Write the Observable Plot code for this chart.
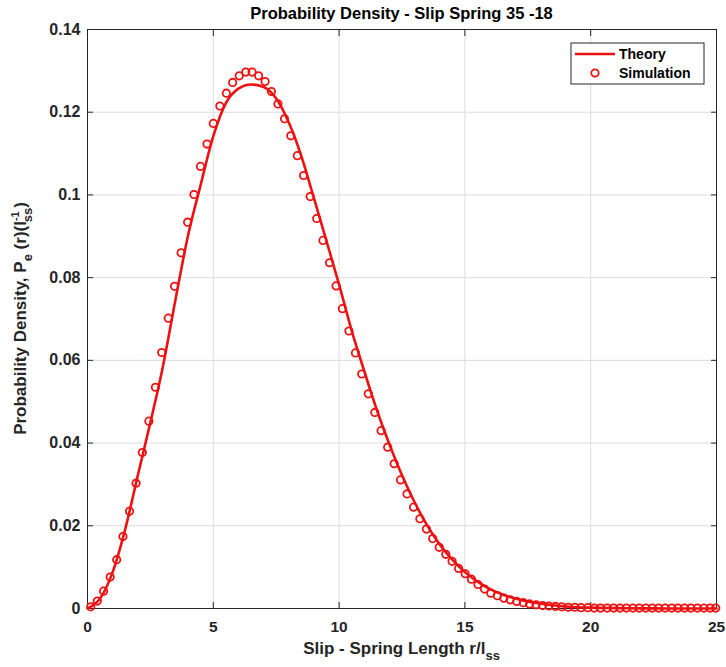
<!DOCTYPE html>
<html><head><meta charset="utf-8">
<script src="https://cdn.jsdelivr.net/npm/d3@7"></script>
<script src="https://cdn.jsdelivr.net/npm/@observablehq/plot@0.6"></script>
<style>
body{margin:0;background:#fff;}
svg{font-family:"Liberation Sans",Arial,sans-serif;}
</style>
</head><body><div id="chart"></div>
<script>
const titleText = "Probability Density - Slip Spring 35 -18";
const seriesNames = ["Theory", "Simulation"];
const xTicks = [0, 5, 10, 15, 20, 25];
const yTicks = [0, 0.02, 0.04, 0.06, 0.08, 0.1, 0.12, 0.14];
const yTickLabels = ["0", "0.02", "0.04", "0.06", "0.08", "0.1", "0.12", "0.14"];

const theoryX = [0, 0.5, 1, 1.5, 2, 2.5, 3, 3.5, 4, 4.5, 5, 5.5, 6, 6.5, 7, 7.5, 8, 8.5, 9, 9.5, 10,
  10.5, 11, 11.5, 12, 12.5, 13, 13.5, 14, 14.5, 15, 15.5, 16, 16.5, 17, 17.5, 18, 18.5, 19, 19.5, 20,
  21, 22, 23, 24, 25];
const theoryY = [0, 0.0024, 0.0088, 0.0192, 0.0322, 0.0450, 0.0586, 0.0748, 0.0903, 0.1025, 0.1142, 0.1222,
  0.1257, 0.1267, 0.1261, 0.1233, 0.1175, 0.1094, 0.0992, 0.0888, 0.0783, 0.0672, 0.0574, 0.0480, 0.0397,
  0.0322, 0.0257, 0.0201, 0.0155, 0.0118, 0.0088, 0.0065, 0.0047, 0.0034, 0.0024, 0.0017, 0.0012, 0.0008,
  0.0005, 0.0003, 0.0002, 0.0001, 0.00004, 0.00001, 0, 0];

const simX = [0.13, 0.39, 0.64, 0.90, 1.16, 1.41, 1.67, 1.93, 2.18, 2.44, 2.70, 2.95, 3.21, 3.46, 3.72, 3.98,
  4.23, 4.49, 4.75, 5.00, 5.26, 5.52, 5.77, 6.03, 6.29, 6.54, 6.80, 7.06, 7.31, 7.57, 7.83, 8.08, 8.34, 8.59,
  8.85, 9.11, 9.36, 9.62, 9.88, 10.13, 10.39, 10.65, 10.90, 11.16, 11.42, 11.67, 11.93, 12.19, 12.44, 12.70,
  12.96, 13.21, 13.47, 13.72, 13.98, 14.24, 14.49, 14.75, 15.01, 15.26, 15.52, 15.78, 16.03, 16.29, 16.55,
  16.80, 17.06, 17.32, 17.57, 17.83, 18.09, 18.34, 18.60, 18.85, 19.11, 19.37, 19.62, 19.88, 20.14, 20.39,
  20.65, 20.91, 21.16, 21.42, 21.68, 21.93, 22.19, 22.45, 22.70, 22.96, 23.22, 23.47, 23.73, 23.98, 24.24,
  24.50, 24.75, 24.97];
const simY = [0.0004, 0.0018, 0.0042, 0.0076, 0.0118, 0.0174, 0.0235, 0.0303, 0.0377, 0.0453, 0.0535, 0.0619,
  0.0702, 0.0779, 0.0860, 0.0934, 0.1001, 0.1069, 0.1123, 0.1173, 0.1215, 0.1246, 0.1272, 0.1288, 0.1297,
  0.1297, 0.1288, 0.1274, 0.1250, 0.1220, 0.1184, 0.1143, 0.1095, 0.1047, 0.0996, 0.0943, 0.0890, 0.0836,
  0.0780, 0.0725, 0.0671, 0.0618, 0.0567, 0.0519, 0.0474, 0.0430, 0.0390, 0.0350, 0.0311, 0.0277, 0.0245,
  0.0217, 0.0192, 0.0169, 0.0148, 0.0131, 0.0114, 0.0097, 0.0084, 0.0071, 0.0058, 0.0047, 0.0037, 0.0031,
  0.0025, 0.0021, 0.0017, 0.0014, 0.0011, 0.0009, 0.0007, 0.0006, 0.0005, 0.0004, 0.0003, 0.0003, 0.0002,
  0.0002, 0.0001, 0.0001, 0.0001, 0.0001, 0.0001, 0.0001, 0.0001, 0.0001, 0.0001, 0.0001, 0.0001, 0.0001,
  0.0001, 0.0001, 0.0001, 0.0001, 0.0001, 0.0001, 0.0001, 0.0001];

const theory = theoryX.map((x, i) => ({x, y: theoryY[i]}));
const sim = simX.map((x, i) => ({x, y: simY[i]}));

const RED = "#ee1111";
const AX = "#262626";
const W = 726, H = 667, mL = 87, mR = 10, mT = 29, mB = 59;

const chart = Plot.plot({
  width: W, height: H,
  marginLeft: mL, marginRight: mR, marginTop: mT, marginBottom: mB,
  style: {fontFamily: "Liberation Sans, Arial, sans-serif", background: "white", overflow: "visible"},
  x: {domain: [0, 25], label: null},
  y: {domain: [0, 0.14], label: null},
  marks: [
    Plot.gridX(xTicks, {stroke: "#dcdcdc", strokeOpacity: 1}),
    Plot.gridY(yTicks, {stroke: "#dcdcdc", strokeOpacity: 1}),
    Plot.axisX(xTicks, {anchor: "bottom", tickSize: 0, tickPadding: 12, label: null, stroke: AX, fill: AX}),
    Plot.axisY(yTicks, {anchor: "left", tickSize: 0, tickPadding: 7, label: null, fill: AX,
      tickFormat: (d) => yTickLabels[yTicks.indexOf(d)]}),
    Plot.axisX(xTicks, {anchor: "bottom", tickSize: -6, tickFormat: () => "", label: null, stroke: AX}),
    Plot.axisX(xTicks, {anchor: "top", tickSize: -6, tickFormat: () => "", label: null, stroke: AX}),
    Plot.axisY(yTicks, {anchor: "left", tickSize: -6, tickFormat: () => "", label: null, stroke: AX}),
    Plot.axisY(yTicks, {anchor: "right", tickSize: -6, tickFormat: () => "", label: null, stroke: AX}),
    Plot.frame({stroke: AX, strokeWidth: 1}),
    Plot.line(theory, {x: "x", y: "y", stroke: RED, strokeWidth: 2.6, curve: "monotone-x"}),
    Plot.dot(sim, {x: "x", y: "y", r: 3.7, stroke: RED, strokeWidth: 1.8, fill: "none"})
  ]
});

const svg = d3.select(chart);
svg.selectAll("g[aria-label='x-axis tick label'], g[aria-label='y-axis tick label']")
  .attr("font-weight", "bold");
svg.selectAll("g[aria-label='x-axis tick label']").attr("font-size", 15.5);
svg.selectAll("g[aria-label='y-axis tick label']").attr("font-size", 16);
svg.selectAll("g[aria-label='x-axis tick label'] text").attr("font-size", 15.5).attr("font-weight", "bold").attr("fill", AX);
svg.selectAll("g[aria-label='y-axis tick label'] text").attr("font-size", 16).attr("font-weight", "bold").attr("fill", AX);

const cx = mL + (W - mL - mR) / 2;
// Title
svg.append("text").attr("x", cx).attr("y", 19).attr("text-anchor", "middle")
  .attr("font-size", 16.5).attr("font-weight", "bold").attr("fill", "#000").text(titleText);

// X label
const xl = svg.append("text").attr("x", cx).attr("y", 654).attr("text-anchor", "middle")
  .attr("font-size", 17).attr("font-weight", "bold").attr("fill", AX);
xl.append("tspan").text("Slip - Spring Length r/l");
xl.append("tspan").attr("dy", 6).attr("font-size", 13).text("ss");

// Y label
const yl = svg.append("text").attr("transform", `translate(26,${mT + (H - mT - mB) / 2}) rotate(-90)`)
  .attr("text-anchor", "middle").attr("font-size", 17).attr("font-weight", "bold").attr("fill", AX);
yl.append("tspan").text("Probability Density, P");
yl.append("tspan").attr("dy", 6).attr("font-size", 13).text("e");
yl.append("tspan").attr("dy", -6).text(" (r)(l");
yl.append("tspan").attr("dy", -7).attr("font-size", 11).text("-1");
yl.append("tspan").attr("dx", -11).attr("dy", 13).attr("font-size", 13).text("ss");
yl.append("tspan").attr("dy", -6).text(")");

// Legend
const lg = svg.append("g").attr("text-anchor", "start");
lg.append("rect").attr("x", 571).attr("y", 43).attr("width", 133).attr("height", 41)
  .attr("fill", "white").attr("stroke", AX).attr("stroke-width", 1);
lg.append("line").attr("x1", 575).attr("x2", 615).attr("y1", 54).attr("y2", 54)
  .attr("stroke", RED).attr("stroke-width", 2.6);
lg.append("circle").attr("cx", 595).attr("cy", 73).attr("r", 3.7)
  .attr("fill", "none").attr("stroke", RED).attr("stroke-width", 1.8);
lg.append("text").attr("x", 619).attr("y", 59).attr("text-anchor", "start").attr("font-size", 14).attr("font-weight", "bold")
  .attr("fill", "#000").text(seriesNames[0]);
lg.append("text").attr("x", 619).attr("y", 78).attr("text-anchor", "start").attr("font-size", 14).attr("font-weight", "bold")
  .attr("fill", "#000").text(seriesNames[1]);

document.getElementById("chart").appendChild(chart);
</script>
</body></html>
